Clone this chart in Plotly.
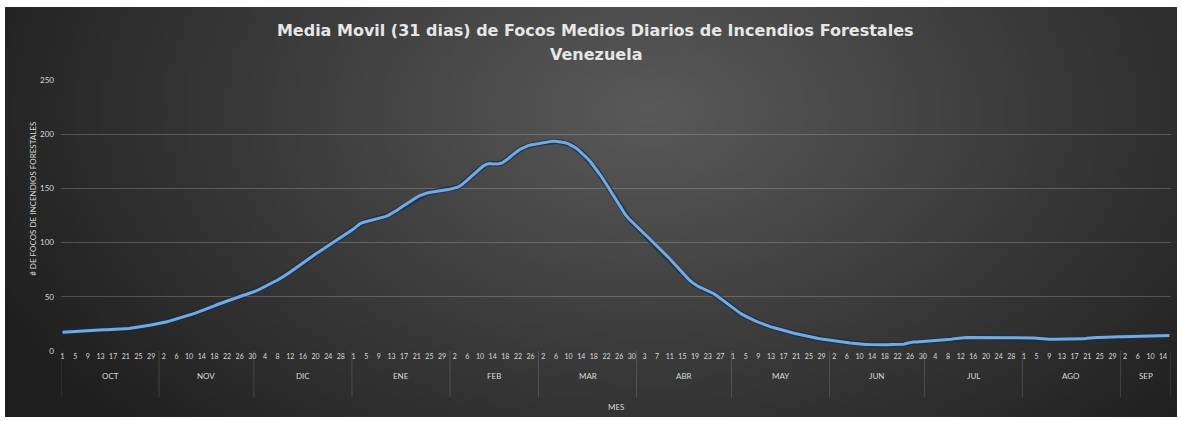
import base64
import struct
import zlib

import numpy as np
import pandas as pd
import plotly.graph_objects as go

# Media movil de 31 dias, focos medios diarios
meses = ["OCT", "NOV", "DIC", "ENE", "FEB", "MAR", "ABR", "MAY", "JUN", "JUL", "AGO", "SEP"]

focos_oct = [17.4, 17.6, 17.8, 17.9, 18.1, 18.3, 18.4, 18.6, 18.9, 19.0, 19.2, 19.3, 19.4, 19.5, 19.5, 19.6,
             19.7, 19.7, 19.8, 20.0, 20.3, 20.7, 21.2, 21.8, 22.3, 22.7, 23.1, 23.5, 23.9, 24.4, 24.9]
focos_nov = [25.5, 26.2, 27.0, 27.8, 28.6, 29.5, 30.4, 31.3, 32.2, 33.1, 34.0, 35.0, 36.0, 37.1, 38.2, 39.3,
             40.5, 41.7, 42.9, 44.0, 45.1, 46.2, 47.3, 48.3, 49.3, 50.3, 51.2, 52.1, 53.0, 54.0]
focos_dic = [55.2, 56.5, 57.9, 59.3, 60.8, 62.3, 63.9, 65.5, 67.2, 68.9, 70.8, 72.8, 74.9, 77.1, 79.3, 81.5,
             83.6, 85.6, 87.6, 89.5, 91.4, 93.3, 95.2, 97.1, 99.0, 100.9, 102.8, 104.7, 106.5, 108.3, 110.1]
focos_ene = [112.5, 115.0, 117.3, 118.6, 119.3, 120.0, 120.7, 121.4, 122.2, 123.0, 124.0, 125.2, 126.7, 128.4,
             130.3, 132.3, 134.3, 136.3, 138.3, 140.1, 141.8, 143.3, 144.6, 145.5, 146.2, 146.8, 147.3, 147.8,
             148.2, 148.5, 148.9]
focos_feb = [149.5, 150.3, 151.2, 152.8, 155.0, 157.6, 160.3, 163.1, 165.8, 168.4, 170.6, 172.2, 172.9, 172.6,
             172.4, 172.8, 173.5, 175.2, 177.6, 180.2, 182.6, 184.7, 186.5, 188.0, 189.3, 190.1, 190.6, 191.0]
focos_mar = [191.5, 192.0, 192.6, 193.2, 193.6, 193.4, 193.0, 192.6, 192.1, 191.0, 189.6, 187.9, 185.8, 183.3,
             180.6, 177.6, 174.3, 170.7, 166.8, 162.6, 158.2, 153.6, 148.8, 143.8, 138.8, 134.0, 129.6, 125.6,
             122.2, 119.2, 116.3]
focos_abr = [113.5, 110.8, 108.1, 105.4, 102.6, 99.8, 97.0, 94.1, 91.2, 88.2, 85.1, 81.9, 78.6, 75.3, 72.1,
             69.0, 66.1, 63.5, 61.3, 59.6, 58.3, 57.1, 55.9, 54.5, 52.8, 50.7, 48.4, 46.1, 43.8, 41.5]
focos_may = [39.3, 37.3, 35.4, 33.6, 32.0, 30.5, 29.1, 27.8, 26.6, 25.4, 24.3, 23.3, 22.3, 21.4, 20.5, 19.7,
             18.9, 18.1, 17.3, 16.6, 15.9, 15.2, 14.6, 14.0, 13.4, 12.8, 12.2, 11.6, 11.1, 10.6, 10.2]
focos_jun = [9.8, 9.4, 9.0, 8.6, 8.2, 7.8, 7.4, 7.0, 6.7, 6.4, 6.2, 6.0, 5.9, 5.8, 5.8, 5.7, 5.7, 5.8, 5.8,
             5.9, 6.0, 6.0, 6.1, 6.3, 7.2, 7.9, 8.2, 8.4, 8.6, 8.8]
focos_jul = [9.0, 9.1, 9.3, 9.4, 9.6, 9.8, 10.0, 10.3, 10.8, 11.4, 11.9, 12.2, 12.3, 12.4, 12.4, 12.4, 12.5,
             12.4, 12.4, 12.4, 12.3, 12.3, 12.4, 12.4, 12.3, 12.3, 12.3, 12.4, 12.3, 12.3, 12.3]
focos_ago = [12.3, 12.2, 12.2, 12.1, 11.8, 11.4, 11.1, 10.9, 10.8, 10.8, 10.8, 10.8, 10.8, 10.8, 10.9, 10.9,
             10.9, 11.0, 11.0, 11.2, 11.7, 12.1, 12.3, 12.4, 12.5, 12.7, 12.9, 13.0, 13.1, 13.1, 13.2]
focos_sep = [13.2, 13.3, 13.3, 13.4, 13.4, 13.5, 13.5, 13.6, 13.7, 13.8, 13.9, 14.0, 14.1, 14.2, 14.3, 14.4]

y_ticks = [0, 50, 100, 150, 200, 250]

por_mes = [focos_oct, focos_nov, focos_dic, focos_ene, focos_feb, focos_mar,
           focos_abr, focos_may, focos_jun, focos_jul, focos_ago, focos_sep]
focos = [v for mes in por_mes for v in mes]
fechas = pd.date_range("2018-10-01", periods=len(focos), freq="D")

W, H = 1181, 421
ML, MR, MT, MB = 61, 10, 80, 70
PW, PH = W - ML - MR, H - MT - MB


def fondo_png(w=240, h=86):
    # degradado radial gris oscuro, estilo Excel
    X, Y = np.meshgrid(np.linspace(0, 1, w), np.linspace(0, 1, h))
    d = np.sqrt(((X - 0.55) / 0.62) ** 2 + ((Y - 0.25) / 1.15) ** 2)
    t = np.clip(d, 0, 1)
    v = (0x5a + (0x1f - 0x5a) * t).astype(np.uint8)
    raw = b"".join(b"\x00" + np.repeat(row, 3).tobytes() for row in v)

    def chunk(tag, data):
        c = tag + data
        return struct.pack(">I", len(data)) + c + struct.pack(">I", zlib.crc32(c) & 0xFFFFFFFF)

    png = (b"\x89PNG\r\n\x1a\n"
           + chunk(b"IHDR", struct.pack(">IIBBBBB", w, h, 8, 2, 0, 0, 0))
           + chunk(b"IDAT", zlib.compress(raw, 9))
           + chunk(b"IEND", b""))
    return "data:image/png;base64," + base64.b64encode(png).decode()


fig = go.Figure()

# sombra + linea
fig.add_trace(go.Scatter(
    x=fechas, y=focos, mode="lines",
    line=dict(color="rgba(20,45,80,0.7)", width=5.5),
    hoverinfo="skip", showlegend=False,
))
fig.add_trace(go.Scatter(
    x=fechas, y=focos, mode="lines",
    line=dict(color="#74AADD", width=3),
    hovertemplate="%{x|%d %b}: %{y:.1f}<extra></extra>",
    showlegend=False,
))

# separadores y etiquetas de mes
shapes = []
annotations = []
inicio = 0
for nombre, vals in zip(meses, por_mes):
    fin = inicio + len(vals) - 1
    borde = fechas[inicio] - pd.Timedelta(hours=12)
    shapes.append(dict(type="line", xref="x", yref="paper", x0=borde, x1=borde,
                       y0=0, y1=-0.17, line=dict(color="rgba(255,255,255,0.14)", width=1)))
    centro = fechas[inicio] + (fechas[fin] - fechas[inicio]) / 2
    annotations.append(dict(x=centro, y=-0.118, xref="x", yref="paper", text=nombre,
                            showarrow=False, font=dict(size=8, color="#d9d9d9")))
    inicio = fin + 1
borde = fechas[-1] + pd.Timedelta(hours=12)
shapes.append(dict(type="line", xref="x", yref="paper", x0=borde, x1=borde,
                   y0=0, y1=-0.17, line=dict(color="rgba(255,255,255,0.14)", width=1)))

annotations.append(dict(x=0.5, y=-0.18, xref="paper", yref="paper", text="MES",
                        showarrow=False, yanchor="top", font=dict(size=8, color="#d9d9d9")))
annotations.append(dict(x=-0.031, y=0.56, xref="paper", yref="paper",
                        text="# DE FOCOS DE INCENDIOS FORESTALES", textangle=-90,
                        showarrow=False, font=dict(size=8, color="#d9d9d9")))

titulo_font = dict(size=16, color="#e6e6e6", family="DejaVu Sans, sans-serif", weight="bold")
# segunda linea del titulo
annotations.append(dict(x=(596 - ML) / PW, y=(H - MB - 55) / PH, xref="paper", yref="paper",
                        yanchor="middle", text="Venezuela", showarrow=False, font=titulo_font))

fig.update_layout(
    width=W, height=H,
    margin=dict(l=ML, r=MR, t=MT, b=MB),
    paper_bgcolor="white",
    plot_bgcolor="rgba(0,0,0,0)",
    font=dict(family="Lato, Open Sans, sans-serif", color="#d9d9d9"),
    title=dict(
        text="Media Movil (31 dias) de Focos Medios Diarios de Incendios Forestales",
        x=0.504, xanchor="center", y=1 - 30 / H, yanchor="middle",
        font=titulo_font,
    ),
    images=[dict(
        source=fondo_png(), xref="paper", yref="paper",
        x=(5 - ML) / PW, y=(H - MB - 7) / PH,
        sizex=(W - 9) / PW, sizey=(H - 11) / PH,
        xanchor="left", yanchor="top", sizing="stretch", layer="below",
    )],
    shapes=shapes,
    annotations=annotations,
    xaxis=dict(
        type="date",
        range=[fechas[0] - pd.Timedelta(hours=12), fechas[-1] + pd.Timedelta(hours=12)],
        tick0=fechas[0], dtick=4 * 86400000, tickformat="%-d",
        tickangle=0,
        showgrid=False, zeroline=False, showline=False,
        tickfont=dict(size=7, color="#d9d9d9"),
        ticks="",
    ),
    yaxis=dict(
        range=[0, 250], tickvals=y_ticks,
        gridcolor="rgba(255,255,255,0.2)", gridwidth=1,
        zeroline=False, showline=False,
        tickfont=dict(size=8, color="#d9d9d9"),
        ticklabelstandoff=6,
    ),
)

# sin margen del body para que la figura ocupe la ventana exacta
fig.write_html("out.html", config={"displayModeBar": False},
               post_script="document.body.style.margin='0px';")
